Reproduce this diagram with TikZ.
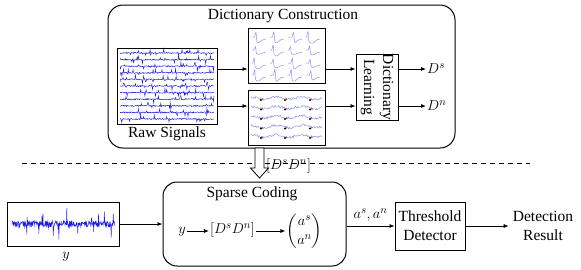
\documentclass[tikz,border=0pt]{standalone}
\usepackage{fontspec}
\setmainfont{Liberation Serif}
\usepackage{amsmath}
\usetikzlibrary{arrows.meta,positioning}
\definecolor{traceBlue}{HTML}{1A1AE6}
\definecolor{paleBlue}{HTML}{9090EE}

\begin{document}
\begin{tikzpicture}[x=1pt,y=-1pt,
    font=\fontsize{15.5}{19}\selectfont,
    panel/.style={draw,line width=1pt,rounded corners=15pt},
    box/.style={draw,line width=0.9pt,inner sep=0pt},
    arrow/.style={-{Latex[length=5pt,width=4pt]},line width=0.8pt},
    trace/.style={traceBlue,line width=0.45pt},
    pale/.style={paleBlue,line width=0.5pt}]
  \useasboundingbox (0,0) rectangle (581,269);
  % dictionary construction
  \node[panel,minimum width=347pt,minimum height=143pt] (cons) at (281.5,76.5) {};
  \node (constitle) at (283,16) {Dictionary Construction};
  \node[box,minimum width=100pt,minimum height=76pt] (raw) at (167,86) {};
  \node[below=-1pt of raw] (rawlab) {Raw Signals};
  \node[box,minimum width=77pt,minimum height=55pt] (spk) at (286.5,55.5) {};
  \node[box,minimum width=77pt,minimum height=55pt] (nse) at (286.5,117.5) {};
  \node[box,minimum width=42pt,minimum height=66pt] (dl) at (377,87) {};
  \node[rotate=-90,align=center] (dltext) at (dl) {Dictionary\\Learning};
  \node[anchor=west,inner sep=1pt] (ds) at (426,69) {$D^s$};
  \node[anchor=west,inner sep=1pt] (dn) at (426,106) {$D^n$};
  % raw signal traces
  \pgfmathsetseed{42}
  \foreach \i in {0,...,10}
    \draw[trace] plot[domain=120:214,samples=160] (\x,{53+6.6*\i+0.6*rand+4*(rand>0.75)*rand});
  % spike templates
  \foreach \cx in {252,270,288,306}
    \foreach \cy in {38,51,64,76} {
      \pgfmathsetmacro\amp{1.1+0.3*rand}
      \pgfmathsetmacro\sh{2*rand}
      \draw[pale,shift={(\cx,\cy)}] plot[smooth,tension=0.5] coordinates
        {(0,-1) (2+\sh,-1) (3.5+\sh,-5*\amp) (4.5+\sh,3*\amp) (7,4*\amp) (10.5,2) (14,1)};
    }
  % noise snippets
  \foreach \r in {98,107.5,117,126.5,136}
    \draw[pale,line width=0.45pt] plot[domain=251:322,samples=90] (\x,{\r+1.2*sin(14*\x)+1.2*rand});
  \foreach \r in {100,109.5,119,128.5,138}
    \foreach \c in {261,285,310} {
      \fill[orange!80!black] (\c+1.5,\r-0.8) circle (0.8pt);
      \fill (\c,\r) circle (1.2pt);
    }
  \draw[arrow] (raw.east |- 0,69) -- (spk.west |- 0,69);
  \draw[arrow] (raw.east |- 0,106) -- (nse.west |- 0,106);
  \draw[arrow] (spk.east |- 0,69) -- (dl.west |- 0,69);
  \draw[arrow] (nse.east |- 0,106) -- (dl.west |- 0,106);
  \draw[arrow] (dl.east |- 0,69) -- (ds.west |- 0,69);
  \draw[arrow] (dl.east |- 0,106) -- (dn.west |- 0,106);
  % separation and dictionary hand-over
  \coordinate (dashL) at (22,163);
  \coordinate (dashR) at (530,163);
  \draw[line width=0.8pt,dash pattern=on 5pt off 4pt] (dashL) -- (dashR);
  \node[anchor=west,inner sep=1pt] (dlab) at (265,166) {$[D^sD^n]$};
  \coordinate (feed) at (259.5,148);
  \draw[line width=0.8pt,fill=white] (feed) +(-4.5,0) -- +(4.5,0) -- +(4.5,20) -- +(9,20)
    -- +(0,30) -- +(-9,20) -- +(-4.5,20) -- cycle;
  % detection
  \node[box,minimum width=112pt,minimum height=44pt] (ysig) at (63,224) {};
  \draw[trace] plot[domain=12:115,samples=300] (\x,{224+3*rand+16*(rand>0.88)*rand});
  \node (ylab) at (66,257) {$y$};
  \node[panel,rounded corners=14pt,minimum width=183pt,minimum height=84pt] (sc) at (254.5,224) {};
  \node (sctitle) at (252,194) {Sparse Coding};
  \node[inner sep=1pt] (yin) at (182,232) {$y$};
  \node[inner sep=1pt] (dict) at (232.5,230) {$[D^sD^n]$};
  \node[inner sep=1pt] (coef) at (304.5,231) {$\begin{pmatrix} a^s\\ a^n \end{pmatrix}$};
  \draw[arrow] (yin.east |- 0,231) -- (dict.west |- 0,231);
  \draw[arrow] (dict.east |- 0,231) -- (coef.west |- 0,231);
  \node[box,minimum width=70pt,minimum height=48pt,align=center] (thr) at (430,226) {Threshold\\Detector};
  \node[align=center,inner sep=4pt] (res) at (543,226) {Detection\\Result};
  \draw[arrow] (ysig) -- (sc);
  \draw[arrow] (sc.east |- thr.west) -- node[above=1pt] {$a^s, a^n$} (thr.west);
  \draw[arrow] (thr) -- (res);
\end{tikzpicture}
\end{document}
